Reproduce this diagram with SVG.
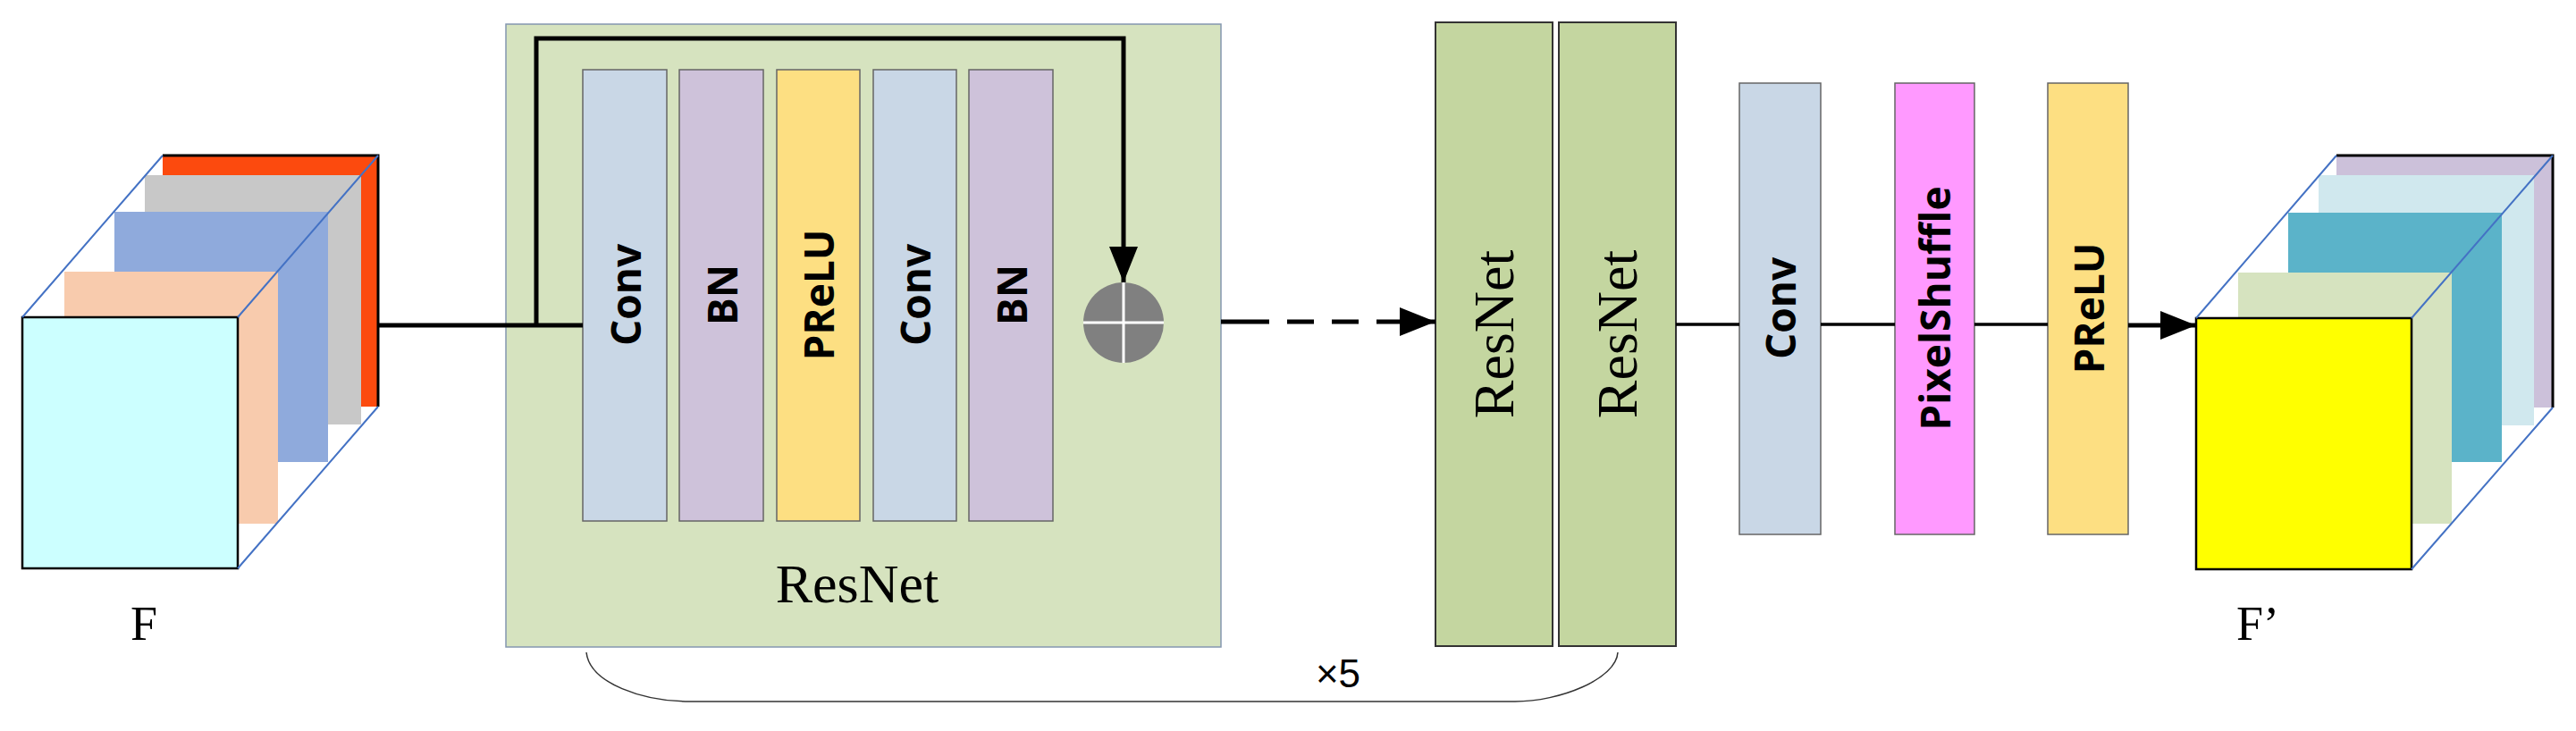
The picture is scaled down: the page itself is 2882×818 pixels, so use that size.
<svg xmlns="http://www.w3.org/2000/svg" width="2882" height="818" viewBox="0 0 2882 818">
<style>
.bar{stroke:#666;stroke-width:1.5}
.lbl{font-family:"Open Sans","DejaVu Sans",sans-serif;font-weight:bold;font-size:46px;fill:#000;text-anchor:middle;dominant-baseline:central}
.tms{font-family:"Liberation Serif",serif;fill:#000;text-anchor:middle}
.diag{stroke:#4472c4;stroke-width:2;fill:none}
.ln{stroke:#000;stroke-width:5;fill:none}
</style>
<defs>
<marker id="ah" markerWidth="10" markerHeight="8" refX="10" refY="4" orient="auto" markerUnits="userSpaceOnUse" viewBox="0 0 10 8">
<path d="M0,0 L10,4 L0,8 Z" fill="#000"/>
</marker>
<marker id="ahb" viewBox="0 0 10 8" refX="10" refY="4" markerWidth="40" markerHeight="32" orient="auto" markerUnits="userSpaceOnUse"><path d="M0,0 L10,4 L0,8 Z" fill="#000"/></marker>
</defs>
<rect width="2882" height="818" fill="#fff"/>
<g id="F">
<rect x="182" y="174" width="241" height="281" fill="#fc4a0e"/>
<path d="M182,174 H423 V455" stroke="#000" stroke-width="3" fill="none"/>
<rect x="162" y="196" width="242" height="279" fill="#c8c8c8"/>
<rect x="128" y="237" width="239" height="280" fill="#8faadc"/>
<rect x="72" y="304" width="239" height="282" fill="#f8cbad"/>
<rect x="25" y="355" width="241" height="281" fill="#ccffff" stroke="#000" stroke-width="2.5"/>
<path class="diag" d="M25,355 L182,174 M266,355 L423,174 M266,636 L423,455"/>
<text class="tms" x="161" y="716" font-size="54">F</text>
</g>
<g id="resnet-block">
<rect x="566" y="27" width="800" height="697" fill="#d6e3bf" stroke="#8497b0" stroke-width="1.5"/>
<text class="tms" x="959" y="674" font-size="62">ResNet</text>
</g>
<g id="conv1"><rect class="bar" x="652" y="78" width="94" height="505" fill="#c9d7e6"/><text class="lbl" transform="translate(699,330) rotate(-90)">Conv</text></g>
<g id="bn1"><rect class="bar" x="760" y="78" width="94" height="505" fill="#cec2da"/><text class="lbl" transform="translate(807,330) rotate(-90)">BN</text></g>
<g id="prelu1"><rect class="bar" x="869" y="78" width="93" height="505" fill="#fddf82"/><text class="lbl" transform="translate(915,330) rotate(-90)">PReLU</text></g>
<g id="conv2"><rect class="bar" x="977" y="78" width="93" height="505" fill="#c9d7e6"/><text class="lbl" transform="translate(1023,330) rotate(-90)">Conv</text></g>
<g id="bn2"><rect class="bar" x="1084" y="78" width="94" height="505" fill="#cec2da"/><text class="lbl" transform="translate(1131,330) rotate(-90)">BN</text></g>
<g id="add">
<circle cx="1257" cy="361" r="45" fill="#808080"/>
<path d="M1212,361 H1302 M1257,316 V406" stroke="#fff" stroke-width="3"/>
</g>
<g id="resnet2"><rect x="1606" y="25" width="131" height="698" fill="#c4d6a0" stroke="#333" stroke-width="2"/><text class="tms" font-size="64" dominant-baseline="central" transform="translate(1671,374) rotate(-90)">ResNet</text></g>
<g id="resnet3"><rect x="1744" y="25" width="131" height="698" fill="#c4d6a0" stroke="#333" stroke-width="2"/><text class="tms" font-size="64" dominant-baseline="central" transform="translate(1809,374) rotate(-90)">ResNet</text></g>
<g id="conv3"><rect class="bar" x="1946" y="93" width="91" height="505" fill="#c9d7e6"/><text class="lbl" transform="translate(1991,345) rotate(-90)">Conv</text></g>
<g id="pixelshuffle"><rect class="bar" x="2120" y="93" width="89" height="505" fill="#ff99ff"/><text class="lbl" transform="translate(2164,345) rotate(-90)">PixelShuffle</text></g>
<g id="prelu2"><rect class="bar" x="2291" y="93" width="90" height="505" fill="#fddf82"/><text class="lbl" transform="translate(2336,345) rotate(-90)">PReLU</text></g>
<g id="Fp">
<rect x="2614" y="174" width="242" height="282" fill="#ccc1da"/>
<path d="M2614,174 H2856 V456" stroke="#000" stroke-width="3" fill="none"/>
<rect x="2594" y="196" width="241" height="280" fill="#d0e8ee"/>
<rect x="2560" y="238" width="239" height="279" fill="#5bb3c9"/>
<rect x="2504" y="305" width="239" height="281" fill="#d6e3bf"/>
<rect x="2457" y="356" width="241" height="281" fill="#ffff00" stroke="#000" stroke-width="2.5"/>
<path class="diag" d="M2457,356 L2614,174 M2698,356 L2856,174 M2698,637 L2856,456"/>
<text class="tms" x="2526" y="716" font-size="54">F’</text>
</g>
<g id="connectors">
<path class="ln" d="M423,364 H652"/>
<path class="ln" d="M600,364 V43 H1257 V316" marker-end="url(#ahb)"/>
<path class="ln" d="M1366,360 H1390"/>
<path class="ln" d="M1390,360 H1606" stroke-dasharray="30,20" marker-end="url(#ahb)"/>
<path d="M1875,363 H1946 M2037,363 H2120 M2209,363 H2291" stroke="#000" stroke-width="3.5"/>
<path class="ln" d="M2381,364 H2457" marker-end="url(#ahb)"/>
<path d="M656,730 C660,765 720,785 772,785 H1695 C1745,785 1808,760 1810,730" stroke="#333" stroke-width="1.5" fill="none"/>
</g>
<text x="1497" y="769" font-family="'Liberation Sans',sans-serif" font-size="44" text-anchor="middle">×5</text>
</svg>
